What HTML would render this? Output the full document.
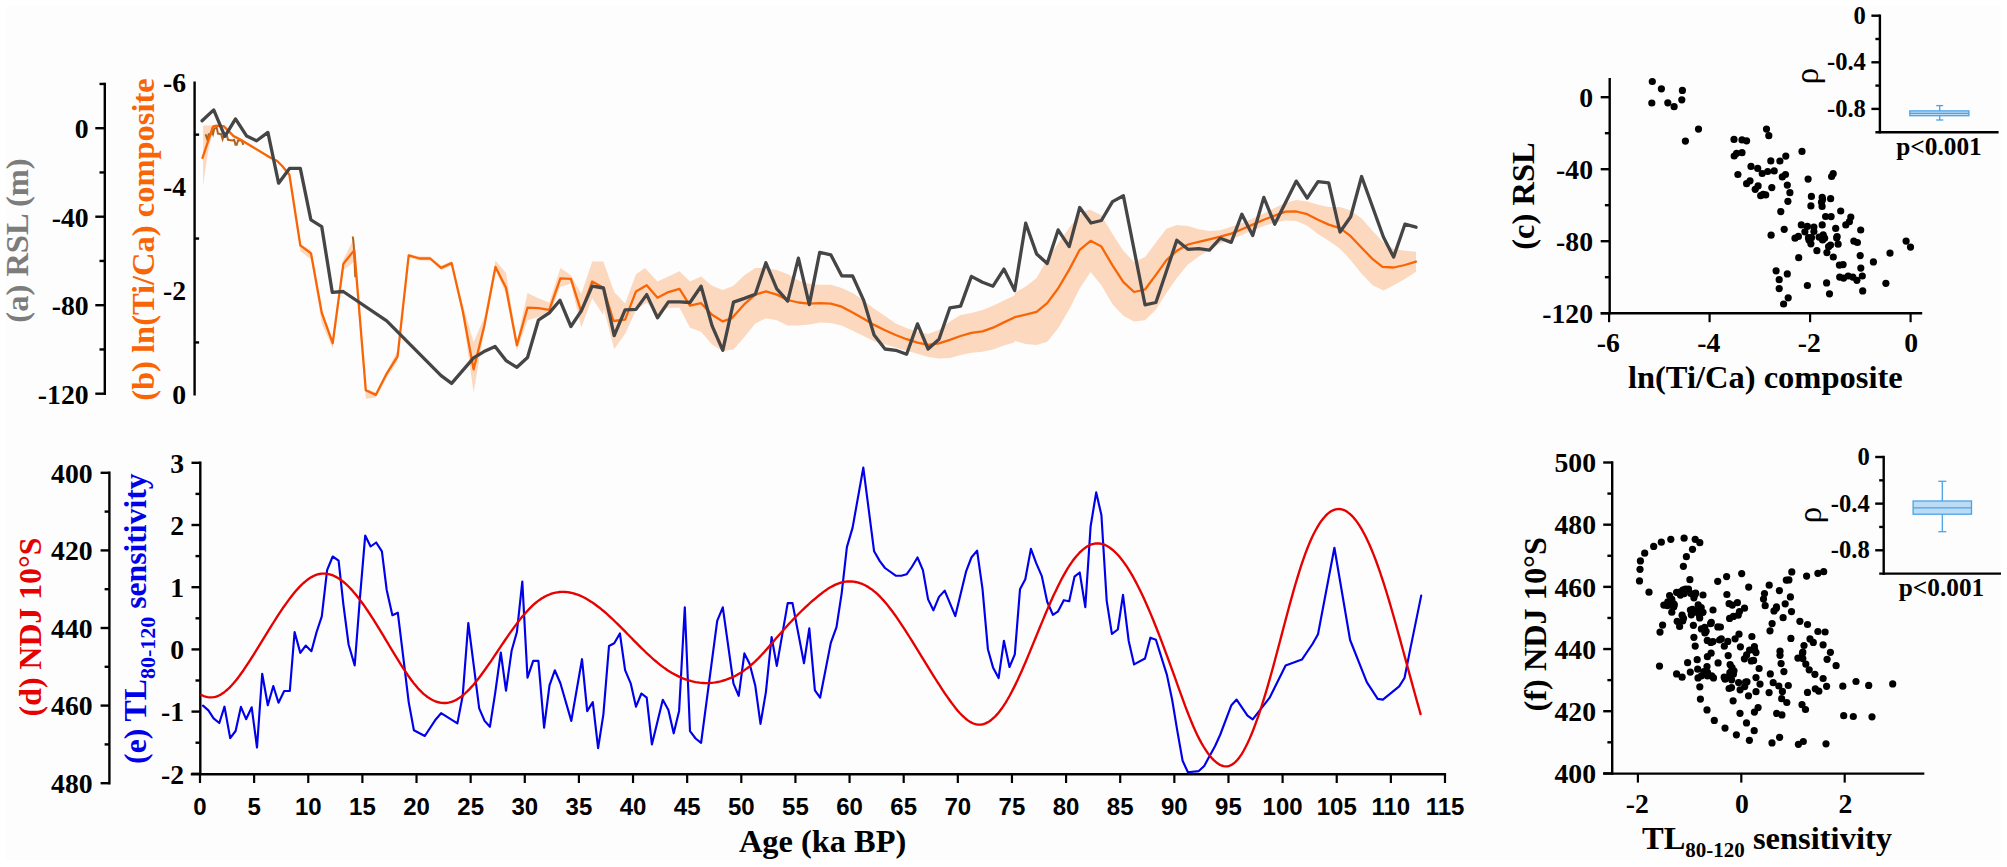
<!DOCTYPE html>
<html lang="en"><head><meta charset="utf-8"><title>Figure</title>
<style>
html,body{margin:0;padding:0;background:#fff;}
body{width:2007px;height:867px;overflow:hidden;}
svg{display:block;}
text{white-space:pre;}
</style></head><body>
<svg width="2007" height="867" viewBox="0 0 2007 867">
<rect x="0" y="0" width="2007" height="867" fill="#ffffff"/>
<rect x="6" y="6" width="1995" height="854" fill="#fdfdfd"/>
<line x1="104.80" y1="82.75" x2="104.80" y2="394.90" stroke="#000" stroke-width="2.4" />
<line x1="95.30" y1="128.20" x2="104.80" y2="128.20" stroke="#000" stroke-width="2.4" />
<text x="88.60" y="138.00" font-size="27.7" text-anchor="end" fill="#000" font-family="Liberation Serif, serif" font-weight="bold" >0</text>
<line x1="95.30" y1="216.70" x2="104.80" y2="216.70" stroke="#000" stroke-width="2.4" />
<text x="88.60" y="226.50" font-size="27.7" text-anchor="end" fill="#000" font-family="Liberation Serif, serif" font-weight="bold" >-40</text>
<line x1="95.30" y1="305.20" x2="104.80" y2="305.20" stroke="#000" stroke-width="2.4" />
<text x="88.60" y="315.00" font-size="27.7" text-anchor="end" fill="#000" font-family="Liberation Serif, serif" font-weight="bold" >-80</text>
<line x1="95.30" y1="393.70" x2="104.80" y2="393.70" stroke="#000" stroke-width="2.4" />
<text x="88.60" y="403.50" font-size="27.7" text-anchor="end" fill="#000" font-family="Liberation Serif, serif" font-weight="bold" >-120</text>
<line x1="99.50" y1="83.95" x2="104.80" y2="83.95" stroke="#000" stroke-width="2.4" />
<line x1="99.50" y1="172.45" x2="104.80" y2="172.45" stroke="#000" stroke-width="2.4" />
<line x1="99.50" y1="260.95" x2="104.80" y2="260.95" stroke="#000" stroke-width="2.4" />
<line x1="99.50" y1="349.45" x2="104.80" y2="349.45" stroke="#000" stroke-width="2.4" />
<line x1="194.60" y1="81.50" x2="194.60" y2="395.60" stroke="#000" stroke-width="2.4" />
<line x1="194.60" y1="134.65" x2="199.10" y2="134.65" stroke="#000" stroke-width="2.4" />
<line x1="194.60" y1="238.55" x2="199.10" y2="238.55" stroke="#000" stroke-width="2.4" />
<line x1="194.60" y1="342.45" x2="199.10" y2="342.45" stroke="#000" stroke-width="2.4" />
<text x="186.00" y="91.90" font-size="27.7" text-anchor="end" fill="#000" font-family="Liberation Serif, serif" font-weight="bold" >-6</text>
<text x="186.00" y="195.80" font-size="27.7" text-anchor="end" fill="#000" font-family="Liberation Serif, serif" font-weight="bold" >-4</text>
<text x="186.00" y="299.70" font-size="27.7" text-anchor="end" fill="#000" font-family="Liberation Serif, serif" font-weight="bold" >-2</text>
<text x="186.00" y="403.60" font-size="27.7" text-anchor="end" fill="#000" font-family="Liberation Serif, serif" font-weight="bold" >0</text>
<text transform="translate(27.80,240.50) rotate(-90)" font-size="32.5" text-anchor="middle" fill="#7c7c7c" font-family="Liberation Serif, serif" font-weight="bold" >(a) RSL (m)</text>
<text transform="translate(154.00,239.50) rotate(-90)" font-size="32.5" text-anchor="middle" fill="#f96505" font-family="Liberation Serif, serif" font-weight="bold" >(b) ln(Ti/Ca) composite</text>
<line x1="109.40" y1="471.60" x2="109.40" y2="784.40" stroke="#000" stroke-width="2.4" />
<line x1="100.60" y1="472.80" x2="109.40" y2="472.80" stroke="#000" stroke-width="2.4" />
<text x="92.60" y="482.60" font-size="27.7" text-anchor="end" fill="#000" font-family="Liberation Serif, serif" font-weight="bold" >400</text>
<line x1="100.60" y1="550.40" x2="109.40" y2="550.40" stroke="#000" stroke-width="2.4" />
<text x="92.60" y="560.20" font-size="27.7" text-anchor="end" fill="#000" font-family="Liberation Serif, serif" font-weight="bold" >420</text>
<line x1="100.60" y1="628.00" x2="109.40" y2="628.00" stroke="#000" stroke-width="2.4" />
<text x="92.60" y="637.80" font-size="27.7" text-anchor="end" fill="#000" font-family="Liberation Serif, serif" font-weight="bold" >440</text>
<line x1="100.60" y1="705.60" x2="109.40" y2="705.60" stroke="#000" stroke-width="2.4" />
<text x="92.60" y="715.40" font-size="27.7" text-anchor="end" fill="#000" font-family="Liberation Serif, serif" font-weight="bold" >460</text>
<line x1="100.60" y1="783.20" x2="109.40" y2="783.20" stroke="#000" stroke-width="2.4" />
<text x="92.60" y="793.00" font-size="27.7" text-anchor="end" fill="#000" font-family="Liberation Serif, serif" font-weight="bold" >480</text>
<line x1="104.60" y1="511.60" x2="109.40" y2="511.60" stroke="#000" stroke-width="2.4" />
<line x1="104.60" y1="589.20" x2="109.40" y2="589.20" stroke="#000" stroke-width="2.4" />
<line x1="104.60" y1="666.80" x2="109.40" y2="666.80" stroke="#000" stroke-width="2.4" />
<line x1="104.60" y1="744.40" x2="109.40" y2="744.40" stroke="#000" stroke-width="2.4" />
<line x1="200.30" y1="461.60" x2="200.30" y2="775.00" stroke="#000" stroke-width="2.4" />
<line x1="191.50" y1="462.80" x2="200.30" y2="462.80" stroke="#000" stroke-width="2.4" />
<text x="184.00" y="472.60" font-size="27.7" text-anchor="end" fill="#000" font-family="Liberation Serif, serif" font-weight="bold" >3</text>
<line x1="191.50" y1="525.00" x2="200.30" y2="525.00" stroke="#000" stroke-width="2.4" />
<text x="184.00" y="534.80" font-size="27.7" text-anchor="end" fill="#000" font-family="Liberation Serif, serif" font-weight="bold" >2</text>
<line x1="191.50" y1="587.20" x2="200.30" y2="587.20" stroke="#000" stroke-width="2.4" />
<text x="184.00" y="597.00" font-size="27.7" text-anchor="end" fill="#000" font-family="Liberation Serif, serif" font-weight="bold" >1</text>
<line x1="191.50" y1="649.40" x2="200.30" y2="649.40" stroke="#000" stroke-width="2.4" />
<text x="184.00" y="659.20" font-size="27.7" text-anchor="end" fill="#000" font-family="Liberation Serif, serif" font-weight="bold" >0</text>
<line x1="191.50" y1="711.60" x2="200.30" y2="711.60" stroke="#000" stroke-width="2.4" />
<text x="184.00" y="721.40" font-size="27.7" text-anchor="end" fill="#000" font-family="Liberation Serif, serif" font-weight="bold" >-1</text>
<line x1="191.50" y1="773.80" x2="200.30" y2="773.80" stroke="#000" stroke-width="2.4" />
<text x="184.00" y="783.60" font-size="27.7" text-anchor="end" fill="#000" font-family="Liberation Serif, serif" font-weight="bold" >-2</text>
<line x1="195.50" y1="493.90" x2="200.30" y2="493.90" stroke="#000" stroke-width="2.4" />
<line x1="195.50" y1="556.10" x2="200.30" y2="556.10" stroke="#000" stroke-width="2.4" />
<line x1="195.50" y1="618.30" x2="200.30" y2="618.30" stroke="#000" stroke-width="2.4" />
<line x1="195.50" y1="680.50" x2="200.30" y2="680.50" stroke="#000" stroke-width="2.4" />
<line x1="195.50" y1="742.70" x2="200.30" y2="742.70" stroke="#000" stroke-width="2.4" />
<line x1="190.80" y1="774.30" x2="1446.09" y2="774.30" stroke="#000" stroke-width="2.4" />
<line x1="200.00" y1="774.30" x2="200.00" y2="783.00" stroke="#000" stroke-width="2.2" />
<text x="200.00" y="815.40" font-size="24" text-anchor="middle" fill="#000" font-family="Liberation Sans, sans-serif" font-weight="bold" >0</text>
<line x1="254.13" y1="774.30" x2="254.13" y2="783.00" stroke="#000" stroke-width="2.2" />
<text x="254.13" y="815.40" font-size="24" text-anchor="middle" fill="#000" font-family="Liberation Sans, sans-serif" font-weight="bold" >5</text>
<line x1="308.26" y1="774.30" x2="308.26" y2="783.00" stroke="#000" stroke-width="2.2" />
<text x="308.26" y="815.40" font-size="24" text-anchor="middle" fill="#000" font-family="Liberation Sans, sans-serif" font-weight="bold" >10</text>
<line x1="362.39" y1="774.30" x2="362.39" y2="783.00" stroke="#000" stroke-width="2.2" />
<text x="362.39" y="815.40" font-size="24" text-anchor="middle" fill="#000" font-family="Liberation Sans, sans-serif" font-weight="bold" >15</text>
<line x1="416.52" y1="774.30" x2="416.52" y2="783.00" stroke="#000" stroke-width="2.2" />
<text x="416.52" y="815.40" font-size="24" text-anchor="middle" fill="#000" font-family="Liberation Sans, sans-serif" font-weight="bold" >20</text>
<line x1="470.65" y1="774.30" x2="470.65" y2="783.00" stroke="#000" stroke-width="2.2" />
<text x="470.65" y="815.40" font-size="24" text-anchor="middle" fill="#000" font-family="Liberation Sans, sans-serif" font-weight="bold" >25</text>
<line x1="524.78" y1="774.30" x2="524.78" y2="783.00" stroke="#000" stroke-width="2.2" />
<text x="524.78" y="815.40" font-size="24" text-anchor="middle" fill="#000" font-family="Liberation Sans, sans-serif" font-weight="bold" >30</text>
<line x1="578.91" y1="774.30" x2="578.91" y2="783.00" stroke="#000" stroke-width="2.2" />
<text x="578.91" y="815.40" font-size="24" text-anchor="middle" fill="#000" font-family="Liberation Sans, sans-serif" font-weight="bold" >35</text>
<line x1="633.04" y1="774.30" x2="633.04" y2="783.00" stroke="#000" stroke-width="2.2" />
<text x="633.04" y="815.40" font-size="24" text-anchor="middle" fill="#000" font-family="Liberation Sans, sans-serif" font-weight="bold" >40</text>
<line x1="687.17" y1="774.30" x2="687.17" y2="783.00" stroke="#000" stroke-width="2.2" />
<text x="687.17" y="815.40" font-size="24" text-anchor="middle" fill="#000" font-family="Liberation Sans, sans-serif" font-weight="bold" >45</text>
<line x1="741.30" y1="774.30" x2="741.30" y2="783.00" stroke="#000" stroke-width="2.2" />
<text x="741.30" y="815.40" font-size="24" text-anchor="middle" fill="#000" font-family="Liberation Sans, sans-serif" font-weight="bold" >50</text>
<line x1="795.43" y1="774.30" x2="795.43" y2="783.00" stroke="#000" stroke-width="2.2" />
<text x="795.43" y="815.40" font-size="24" text-anchor="middle" fill="#000" font-family="Liberation Sans, sans-serif" font-weight="bold" >55</text>
<line x1="849.56" y1="774.30" x2="849.56" y2="783.00" stroke="#000" stroke-width="2.2" />
<text x="849.56" y="815.40" font-size="24" text-anchor="middle" fill="#000" font-family="Liberation Sans, sans-serif" font-weight="bold" >60</text>
<line x1="903.69" y1="774.30" x2="903.69" y2="783.00" stroke="#000" stroke-width="2.2" />
<text x="903.69" y="815.40" font-size="24" text-anchor="middle" fill="#000" font-family="Liberation Sans, sans-serif" font-weight="bold" >65</text>
<line x1="957.82" y1="774.30" x2="957.82" y2="783.00" stroke="#000" stroke-width="2.2" />
<text x="957.82" y="815.40" font-size="24" text-anchor="middle" fill="#000" font-family="Liberation Sans, sans-serif" font-weight="bold" >70</text>
<line x1="1011.95" y1="774.30" x2="1011.95" y2="783.00" stroke="#000" stroke-width="2.2" />
<text x="1011.95" y="815.40" font-size="24" text-anchor="middle" fill="#000" font-family="Liberation Sans, sans-serif" font-weight="bold" >75</text>
<line x1="1066.08" y1="774.30" x2="1066.08" y2="783.00" stroke="#000" stroke-width="2.2" />
<text x="1066.08" y="815.40" font-size="24" text-anchor="middle" fill="#000" font-family="Liberation Sans, sans-serif" font-weight="bold" >80</text>
<line x1="1120.21" y1="774.30" x2="1120.21" y2="783.00" stroke="#000" stroke-width="2.2" />
<text x="1120.21" y="815.40" font-size="24" text-anchor="middle" fill="#000" font-family="Liberation Sans, sans-serif" font-weight="bold" >85</text>
<line x1="1174.34" y1="774.30" x2="1174.34" y2="783.00" stroke="#000" stroke-width="2.2" />
<text x="1174.34" y="815.40" font-size="24" text-anchor="middle" fill="#000" font-family="Liberation Sans, sans-serif" font-weight="bold" >90</text>
<line x1="1228.47" y1="774.30" x2="1228.47" y2="783.00" stroke="#000" stroke-width="2.2" />
<text x="1228.47" y="815.40" font-size="24" text-anchor="middle" fill="#000" font-family="Liberation Sans, sans-serif" font-weight="bold" >95</text>
<line x1="1282.60" y1="774.30" x2="1282.60" y2="783.00" stroke="#000" stroke-width="2.2" />
<text x="1282.60" y="815.40" font-size="24" text-anchor="middle" fill="#000" font-family="Liberation Sans, sans-serif" font-weight="bold" >100</text>
<line x1="1336.73" y1="774.30" x2="1336.73" y2="783.00" stroke="#000" stroke-width="2.2" />
<text x="1336.73" y="815.40" font-size="24" text-anchor="middle" fill="#000" font-family="Liberation Sans, sans-serif" font-weight="bold" >105</text>
<line x1="1390.86" y1="774.30" x2="1390.86" y2="783.00" stroke="#000" stroke-width="2.2" />
<text x="1390.86" y="815.40" font-size="24" text-anchor="middle" fill="#000" font-family="Liberation Sans, sans-serif" font-weight="bold" >110</text>
<line x1="1444.99" y1="774.30" x2="1444.99" y2="783.00" stroke="#000" stroke-width="2.2" />
<text x="1444.99" y="815.40" font-size="24" text-anchor="middle" fill="#000" font-family="Liberation Sans, sans-serif" font-weight="bold" >115</text>
<text x="822.60" y="852.00" font-size="32.4" text-anchor="middle" fill="#000" font-family="Liberation Serif, serif" font-weight="bold" >Age (ka BP)</text>
<text transform="translate(40.80,627.00) rotate(-90)" font-size="31.8" text-anchor="middle" fill="#e60000" font-family="Liberation Serif, serif" font-weight="bold" >(d) NDJ 10°S</text>
<text transform="translate(145.5,618.6) rotate(-90)" font-size="31.7" text-anchor="middle" fill="#0000ea" font-family="Liberation Serif, serif" font-weight="bold">(e) TL<tspan font-size="22" dy="9.5">80-120</tspan><tspan dy="-9.5"> sensitivity</tspan></text>
<line x1="1609.70" y1="78.00" x2="1609.70" y2="314.40" stroke="#000" stroke-width="2.4" />
<line x1="1600.70" y1="313.20" x2="1922.20" y2="313.20" stroke="#000" stroke-width="2.4" />
<line x1="1600.70" y1="97.20" x2="1609.70" y2="97.20" stroke="#000" stroke-width="2.4" />
<text x="1593.00" y="107.00" font-size="27.7" text-anchor="end" fill="#000" font-family="Liberation Serif, serif" font-weight="bold" >0</text>
<line x1="1600.70" y1="169.20" x2="1609.70" y2="169.20" stroke="#000" stroke-width="2.4" />
<text x="1593.00" y="179.00" font-size="27.7" text-anchor="end" fill="#000" font-family="Liberation Serif, serif" font-weight="bold" >-40</text>
<line x1="1600.70" y1="241.20" x2="1609.70" y2="241.20" stroke="#000" stroke-width="2.4" />
<text x="1593.00" y="251.00" font-size="27.7" text-anchor="end" fill="#000" font-family="Liberation Serif, serif" font-weight="bold" >-80</text>
<line x1="1600.70" y1="313.20" x2="1609.70" y2="313.20" stroke="#000" stroke-width="2.4" />
<text x="1593.00" y="323.00" font-size="27.7" text-anchor="end" fill="#000" font-family="Liberation Serif, serif" font-weight="bold" >-120</text>
<line x1="1604.90" y1="133.20" x2="1609.70" y2="133.20" stroke="#000" stroke-width="2.4" />
<line x1="1604.90" y1="205.20" x2="1609.70" y2="205.20" stroke="#000" stroke-width="2.4" />
<line x1="1604.90" y1="277.20" x2="1609.70" y2="277.20" stroke="#000" stroke-width="2.4" />
<line x1="1609.10" y1="313.20" x2="1609.10" y2="322.20" stroke="#000" stroke-width="2.2" />
<text x="1608.30" y="352.40" font-size="27.7" text-anchor="middle" fill="#000" font-family="Liberation Serif, serif" font-weight="bold" >-6</text>
<line x1="1709.60" y1="313.20" x2="1709.60" y2="322.20" stroke="#000" stroke-width="2.2" />
<text x="1708.80" y="352.40" font-size="27.7" text-anchor="middle" fill="#000" font-family="Liberation Serif, serif" font-weight="bold" >-4</text>
<line x1="1810.10" y1="313.20" x2="1810.10" y2="322.20" stroke="#000" stroke-width="2.2" />
<text x="1809.30" y="352.40" font-size="27.7" text-anchor="middle" fill="#000" font-family="Liberation Serif, serif" font-weight="bold" >-2</text>
<line x1="1910.60" y1="313.20" x2="1910.60" y2="322.20" stroke="#000" stroke-width="2.2" />
<text x="1911.20" y="352.40" font-size="27.7" text-anchor="middle" fill="#000" font-family="Liberation Serif, serif" font-weight="bold" >0</text>
<text x="1765.30" y="387.80" font-size="32.5" text-anchor="middle" fill="#000" font-family="Liberation Serif, serif" font-weight="bold" >ln(Ti/Ca) composite</text>
<text transform="translate(1534.00,196.00) rotate(-90)" font-size="32.5" text-anchor="middle" fill="#000" font-family="Liberation Serif, serif" font-weight="bold" >(c) RSL</text>
<line x1="1612.20" y1="461.30" x2="1612.20" y2="774.80" stroke="#000" stroke-width="2.4" />
<line x1="1603.20" y1="773.60" x2="1924.32" y2="773.60" stroke="#000" stroke-width="2.4" />
<line x1="1603.20" y1="773.40" x2="1612.20" y2="773.40" stroke="#000" stroke-width="2.4" />
<text x="1596.00" y="783.20" font-size="27.7" text-anchor="end" fill="#000" font-family="Liberation Serif, serif" font-weight="bold" >400</text>
<line x1="1603.20" y1="711.22" x2="1612.20" y2="711.22" stroke="#000" stroke-width="2.4" />
<text x="1596.00" y="721.02" font-size="27.7" text-anchor="end" fill="#000" font-family="Liberation Serif, serif" font-weight="bold" >420</text>
<line x1="1603.20" y1="649.04" x2="1612.20" y2="649.04" stroke="#000" stroke-width="2.4" />
<text x="1596.00" y="658.84" font-size="27.7" text-anchor="end" fill="#000" font-family="Liberation Serif, serif" font-weight="bold" >440</text>
<line x1="1603.20" y1="586.86" x2="1612.20" y2="586.86" stroke="#000" stroke-width="2.4" />
<text x="1596.00" y="596.66" font-size="27.7" text-anchor="end" fill="#000" font-family="Liberation Serif, serif" font-weight="bold" >460</text>
<line x1="1603.20" y1="524.68" x2="1612.20" y2="524.68" stroke="#000" stroke-width="2.4" />
<text x="1596.00" y="534.48" font-size="27.7" text-anchor="end" fill="#000" font-family="Liberation Serif, serif" font-weight="bold" >480</text>
<line x1="1603.20" y1="462.50" x2="1612.20" y2="462.50" stroke="#000" stroke-width="2.4" />
<text x="1596.00" y="472.30" font-size="27.7" text-anchor="end" fill="#000" font-family="Liberation Serif, serif" font-weight="bold" >500</text>
<line x1="1607.40" y1="742.31" x2="1612.20" y2="742.31" stroke="#000" stroke-width="2.4" />
<line x1="1607.40" y1="680.13" x2="1612.20" y2="680.13" stroke="#000" stroke-width="2.4" />
<line x1="1607.40" y1="617.95" x2="1612.20" y2="617.95" stroke="#000" stroke-width="2.4" />
<line x1="1607.40" y1="555.77" x2="1612.20" y2="555.77" stroke="#000" stroke-width="2.4" />
<line x1="1607.40" y1="493.59" x2="1612.20" y2="493.59" stroke="#000" stroke-width="2.4" />
<line x1="1637.90" y1="773.60" x2="1637.90" y2="782.60" stroke="#000" stroke-width="2.2" />
<text x="1637.20" y="812.80" font-size="27.7" text-anchor="middle" fill="#000" font-family="Liberation Serif, serif" font-weight="bold" >-2</text>
<line x1="1741.30" y1="773.60" x2="1741.30" y2="782.60" stroke="#000" stroke-width="2.2" />
<text x="1741.90" y="812.80" font-size="27.7" text-anchor="middle" fill="#000" font-family="Liberation Serif, serif" font-weight="bold" >0</text>
<line x1="1844.70" y1="773.60" x2="1844.70" y2="782.60" stroke="#000" stroke-width="2.2" />
<text x="1845.30" y="812.80" font-size="27.7" text-anchor="middle" fill="#000" font-family="Liberation Serif, serif" font-weight="bold" >2</text>
<text x="1767" y="848.8" font-size="32.5" text-anchor="middle" fill="#000" font-family="Liberation Serif, serif" font-weight="bold">TL<tspan font-size="21" dy="8">80-120</tspan><tspan dy="-8"> sensitivity</tspan></text>
<text transform="translate(1546.00,624.20) rotate(-90)" font-size="32.3" text-anchor="middle" fill="#000" font-family="Liberation Serif, serif" font-weight="bold" >(f) NDJ 10°S</text>
<line x1="1879.90" y1="14.50" x2="1879.90" y2="133.40" stroke="#000" stroke-width="2.4" />
<line x1="1875.40" y1="132.20" x2="1998.60" y2="132.20" stroke="#000" stroke-width="2.4" />
<line x1="1871.40" y1="15.70" x2="1879.90" y2="15.70" stroke="#000" stroke-width="2.4" />
<text x="1865.90" y="23.70" font-size="24.6" text-anchor="end" fill="#000" font-family="Liberation Serif, serif" font-weight="bold" >0</text>
<line x1="1871.40" y1="62.30" x2="1879.90" y2="62.30" stroke="#000" stroke-width="2.4" />
<text x="1865.90" y="70.30" font-size="24.6" text-anchor="end" fill="#000" font-family="Liberation Serif, serif" font-weight="bold" >-0.4</text>
<line x1="1871.40" y1="108.90" x2="1879.90" y2="108.90" stroke="#000" stroke-width="2.4" />
<text x="1865.90" y="116.90" font-size="24.6" text-anchor="end" fill="#000" font-family="Liberation Serif, serif" font-weight="bold" >-0.8</text>
<line x1="1875.40" y1="39.00" x2="1879.90" y2="39.00" stroke="#000" stroke-width="2.4" />
<line x1="1875.40" y1="85.60" x2="1879.90" y2="85.60" stroke="#000" stroke-width="2.4" />
<line x1="1939.70" y1="105.60" x2="1939.70" y2="120.00" stroke="#4aa3e8" stroke-width="1.3" />
<line x1="1936.20" y1="105.60" x2="1943.20" y2="105.60" stroke="#4aa3e8" stroke-width="1.3" />
<line x1="1936.20" y1="120.00" x2="1943.20" y2="120.00" stroke="#4aa3e8" stroke-width="1.3" />
<rect x="1909.8" y="110.9" width="59.100000000000136" height="4.799999999999997" fill="#bcdcf5" stroke="#4aa3e8" stroke-width="1.3"/>
<line x1="1909.80" y1="113.30" x2="1968.90" y2="113.30" stroke="#4aa3e8" stroke-width="1.3" />
<text transform="translate(1818,76) rotate(-90)" font-size="33" text-anchor="middle" fill="#000" font-family="Liberation Serif, serif">ρ</text>
<text x="1939.00" y="154.80" font-size="25.3" text-anchor="middle" fill="#000" font-family="Liberation Serif, serif" font-weight="bold" >p&lt;0.001</text>
<line x1="1883.70" y1="455.80" x2="1883.70" y2="574.80" stroke="#000" stroke-width="2.4" />
<line x1="1879.20" y1="573.60" x2="2001.00" y2="573.60" stroke="#000" stroke-width="2.4" />
<line x1="1875.20" y1="457.00" x2="1883.70" y2="457.00" stroke="#000" stroke-width="2.4" />
<text x="1869.70" y="465.00" font-size="24.6" text-anchor="end" fill="#000" font-family="Liberation Serif, serif" font-weight="bold" >0</text>
<line x1="1875.20" y1="503.64" x2="1883.70" y2="503.64" stroke="#000" stroke-width="2.4" />
<text x="1869.70" y="511.64" font-size="24.6" text-anchor="end" fill="#000" font-family="Liberation Serif, serif" font-weight="bold" >-0.4</text>
<line x1="1875.20" y1="550.28" x2="1883.70" y2="550.28" stroke="#000" stroke-width="2.4" />
<text x="1869.70" y="558.28" font-size="24.6" text-anchor="end" fill="#000" font-family="Liberation Serif, serif" font-weight="bold" >-0.8</text>
<line x1="1879.20" y1="480.32" x2="1883.70" y2="480.32" stroke="#000" stroke-width="2.4" />
<line x1="1879.20" y1="526.96" x2="1883.70" y2="526.96" stroke="#000" stroke-width="2.4" />
<line x1="1942.30" y1="481.30" x2="1942.30" y2="531.70" stroke="#4aa3e8" stroke-width="1.3" />
<line x1="1938.30" y1="481.30" x2="1946.30" y2="481.30" stroke="#4aa3e8" stroke-width="1.3" />
<line x1="1938.30" y1="531.70" x2="1946.30" y2="531.70" stroke="#4aa3e8" stroke-width="1.3" />
<rect x="1913.1" y="501.0" width="58.40000000000009" height="13.200000000000045" fill="#bcdcf5" stroke="#4aa3e8" stroke-width="1.3"/>
<line x1="1913.10" y1="507.90" x2="1971.50" y2="507.90" stroke="#4aa3e8" stroke-width="1.3" />
<text transform="translate(1821,515) rotate(-90)" font-size="33" text-anchor="middle" fill="#000" font-family="Liberation Serif, serif">ρ</text>
<text x="1941.50" y="596.20" font-size="25.3" text-anchor="middle" fill="#000" font-family="Liberation Serif, serif" font-weight="bold" >p&lt;0.001</text>
<polygon points="203.1,125.5 213.7,125.5 218.6,125.1 224.3,125.3 227.4,128.6 233.6,134.8 239.8,138.0 252.3,145.4 269.7,156.0 277.2,159.8 282.2,164.7 289.0,173.5 297.8,224.0 300.3,244.3 311.0,250.1 321.8,310.8 332.7,341.1 343.4,259.5 354.3,237.6 365.8,388.2 375.8,392.4 386.7,371.5 397.6,350.6 408.7,253.9 419.6,256.4 430.2,256.4 441.1,265.8 451.6,261.0 462.7,304.5 473.6,342.2 484.4,317.1 495.5,260.6 506.0,273.1 516.9,341.1 527.5,293.0 538.4,298.2 549.3,302.4 560.4,267.9 570.9,275.2 581.3,294.1 592.2,261.6 603.3,261.6 603.8,262.8 614.2,292.1 625.1,303.6 636.0,274.3 645.0,268.0 657.5,281.6 668.4,276.4 679.5,271.2 690.0,281.6 701.1,276.4 712.0,285.8 722.8,290.0 733.5,285.8 744.4,275.3 755.3,268.0 765.9,268.0 776.8,270.1 787.7,274.3 798.4,280.6 809.3,283.7 819.7,284.8 830.8,284.8 841.7,287.9 852.6,293.1 863.7,300.4 874.1,308.8 885.0,316.1 895.7,323.5 906.6,328.1 917.5,331.8 928.1,333.9 939.0,329.7 949.9,321.4 960.6,315.1 971.4,313.0 982.5,309.9 993.0,305.7 1003.9,300.4 1014.8,295.2 1014.6,292.7 1025.7,286.4 1036.6,278.0 1047.2,259.2 1058.1,243.5 1069.2,227.8 1079.7,214.2 1089.5,209.6 1101.4,215.2 1112.5,234.1 1123.4,250.8 1134.1,262.3 1145.0,257.1 1155.9,242.4 1166.5,228.8 1176.8,225.1 1187.9,226.1 1198.8,229.2 1209.4,230.9 1220.3,230.3 1231.2,226.7 1241.9,223.0 1252.7,218.4 1263.8,213.5 1274.7,207.9 1285.6,202.7 1296.3,199.9 1307.2,201.6 1318.0,204.8 1328.7,206.9 1340.0,206.9 1350.7,210.4 1361.6,218.4 1372.7,230.9 1383.5,242.4 1393.6,248.7 1404.9,250.8 1416.0,251.8 1416.0,271.7 1404.9,279.1 1393.6,285.3 1383.5,290.6 1372.7,285.3 1361.6,273.8 1350.7,260.2 1340.0,248.7 1328.7,240.8 1318.0,234.1 1307.2,225.7 1296.3,220.9 1285.6,220.5 1274.7,222.5 1263.8,226.1 1252.7,230.3 1241.9,235.1 1231.2,239.3 1220.3,243.5 1209.4,249.8 1198.8,256.4 1187.9,264.4 1176.8,278.0 1166.5,292.7 1155.9,309.4 1145.0,320.3 1134.1,321.5 1123.4,315.7 1112.5,304.2 1101.4,285.3 1090.6,272.1 1079.7,288.5 1069.2,309.4 1058.1,328.2 1047.2,341.8 1036.6,345.0 1025.7,343.9 1014.6,340.8 1014.8,342.3 1003.9,345.4 993.0,349.6 982.5,351.7 971.4,352.8 960.6,354.9 949.9,358.0 939.0,358.6 928.1,356.9 917.5,353.8 906.6,350.7 895.7,347.5 885.0,344.4 874.1,341.3 863.7,336.0 852.6,330.8 841.7,325.6 830.8,323.0 819.7,322.4 809.3,324.5 798.4,325.6 787.7,325.6 776.8,320.3 765.9,318.2 755.3,323.5 744.4,337.1 733.5,349.6 722.8,351.1 712.0,344.4 701.1,331.8 690.0,327.7 679.5,307.8 668.4,307.8 657.5,314.1 646.7,302.5 636.0,309.9 625.1,333.9 614.2,349.0 603.8,308.8 603.3,315.0 592.2,298.2 581.3,327.5 570.9,283.6 560.4,286.7 549.3,315.0 538.4,317.1 527.5,320.2 516.9,350.6 506.0,294.1 495.5,270.0 484.4,329.6 473.6,392.4 462.7,315.0 451.6,265.8 441.1,270.0 430.2,260.6 419.6,260.6 408.7,257.4 397.6,361.0 386.7,377.8 375.8,397.6 365.8,398.7 354.3,261.6 343.4,270.0 332.7,348.5 321.8,323.4 311.0,259.5 300.3,251.2 297.8,227.1 289.0,175.9 282.2,167.2 277.2,162.2 269.7,158.5 252.3,147.9 239.8,140.4 233.6,137.3 227.4,131.1 224.3,127.0 218.6,126.7 213.7,128.0 208.7,148.5 204.9,172.2 203.1,185.9" fill="#fcd8bf" stroke="none"/>
<polyline points="205.6,134.2 207.4,139.8 208.7,134.2 210.6,134.2 211.8,131.1 213.0,134.2 214.3,128.6 216.8,128.0 218.0,133.6 221.1,134.2 222.6,139.2 224.3,134.2 226.7,134.8 228.0,139.8 232.4,140.4 234.2,139.8 235.5,144.8 236.7,144.8 238.0,140.4 241.7,140.4 243.3,144.8" fill="none" stroke="#b0651f" stroke-width="2" stroke-linejoin="miter"/>
<polyline points="352.8,236.5 353.8,246.0 355.3,277.3" fill="none" stroke="#b0651f" stroke-width="2" stroke-linejoin="miter"/>
<polyline points="202.5,157.9 213.0,126.7 216.2,125.7 223.6,126.1 227.4,129.9 233.6,136.1 239.8,139.2 252.3,146.7 269.7,157.3 277.2,161.0 282.2,166.0 289.4,174.7 300.3,245.3 311.0,253.3 321.8,312.9 332.7,343.2 343.4,263.7 354.3,250.1 365.8,390.3 375.8,394.9 386.7,373.6 397.6,356.4 408.7,255.3 419.6,258.5 430.2,258.5 441.1,267.9 451.6,263.1 462.7,310.8 473.6,369.4 484.4,325.4 495.5,266.9 506.0,287.8 516.9,345.3 527.5,307.7 538.4,308.1 549.3,309.8 560.4,278.4 570.9,278.8 581.3,311.8 592.2,281.5 603.3,287.8 613.5,321.0 625.1,319.7 636.0,291.4 646.7,285.2 657.5,297.7 668.4,292.1 679.5,288.9 690.0,305.7 701.1,303.2 712.0,314.7 722.8,321.4 731.8,318.2 744.4,304.2 755.3,294.6 765.9,291.4 776.8,294.6 787.7,300.0 798.4,302.5 809.3,303.6 819.7,303.2 830.8,303.6 841.7,306.7 852.6,312.4 863.7,318.7 874.1,324.9 885.0,330.2 895.7,335.0 906.6,339.2 917.5,342.7 928.1,344.8 939.0,343.3 949.9,339.8 960.6,336.0 971.4,332.9 982.5,331.4 993.0,327.7 1003.9,322.4 1014.8,317.2 1025.7,314.6 1036.6,311.9 1047.2,303.1 1058.1,288.5 1069.2,269.6 1079.7,249.8 1090.6,240.8 1101.4,246.6 1112.5,265.4 1123.4,282.2 1134.1,292.0 1145.0,289.5 1155.9,274.9 1166.5,260.2 1176.8,250.8 1187.9,244.5 1198.8,241.8 1209.4,239.3 1220.3,236.6 1231.2,233.6 1241.9,229.2 1252.7,224.6 1263.8,219.8 1274.7,215.6 1285.6,211.7 1296.3,211.5 1307.2,214.2 1318.0,219.8 1328.7,224.6 1340.0,228.2 1350.7,236.2 1361.6,247.7 1372.7,259.2 1382.5,266.9 1393.6,267.5 1404.9,265.0 1416.0,261.7" fill="none" stroke="#f96505" stroke-width="2.3" stroke-linejoin="round" stroke-linecap="round"/>
<polyline points="202.1,120.8 213.7,109.9 224.9,136.3 235.5,118.9 246.7,136.1 256.6,140.8 267.9,132.4 278.6,183.2 289.5,168.4 300.3,168.4 310.9,219.8 321.7,226.6 332.3,292.4 343.2,291.5 386.7,320.8 441.1,375.7 451.6,383.4 473.6,357.9 484.0,351.6 495.1,346.4 506.0,360.6 516.9,367.3 527.5,357.5 538.4,320.2 549.3,312.9 560.0,300.3 570.9,326.5 581.3,310.8 592.2,286.1 603.5,288.0 614.2,335.6 625.1,309.9 636.0,309.4 646.7,294.6 657.5,317.8 668.4,301.9 679.5,301.9 690.0,302.5 701.1,286.2 712.0,325.6 722.8,350.3 733.5,302.1 744.4,298.4 755.3,294.2 765.9,262.8 776.8,288.9 787.7,301.1 798.4,258.2 809.3,304.6 819.7,252.3 830.8,254.8 841.7,275.8 852.6,276.0 863.7,300.4 874.1,335.0 885.0,349.0 895.7,350.3 906.6,354.2 917.5,323.9 928.1,349.0 939.0,339.2 949.9,307.8 960.6,306.1 971.4,276.4 982.5,282.2 993.0,286.2 1003.9,269.1 1014.7,290.5 1025.7,223.2 1036.6,253.9 1047.2,263.4 1058.1,229.9 1069.2,246.6 1079.7,207.5 1091.0,223.0 1101.4,220.5 1112.5,201.6 1123.4,195.8 1145.0,304.8 1155.9,302.5 1176.8,240.3 1187.9,249.3 1198.8,248.7 1209.4,250.2 1220.3,238.2 1231.2,242.4 1241.9,214.2 1252.7,235.5 1263.8,197.4 1274.7,224.2 1296.3,181.1 1307.2,198.1 1318.0,181.7 1328.7,182.8 1340.0,232.0 1350.7,216.7 1361.6,176.5 1383.5,237.2 1393.6,257.1 1404.9,224.2 1416.0,227.2" fill="none" stroke="#454545" stroke-width="3.3" stroke-linejoin="round" stroke-linecap="round"/>
<polyline points="203.0,705.6 208.4,710.4 213.6,718.4 219.3,723.0 224.5,706.7 230.2,738.1 235.6,731.0 240.9,706.9 246.1,719.2 251.7,707.3 257.0,747.5 262.2,673.8 267.8,705.2 273.3,686.0 278.5,702.7 284.2,691.0 289.8,691.0 294.6,632.0 300.3,652.9 305.7,645.6 311.4,651.2 316.6,632.0 321.8,616.3 327.1,570.1 332.7,556.5 338.6,560.7 343.4,604.6 348.6,644.5 354.7,665.5 359.9,598.4 365.2,535.6 370.6,546.5 376.2,542.5 381.9,551.3 386.7,590.0 392.4,615.2 397.8,612.7 403.5,659.2 408.7,702.1 413.9,730.3 424.8,736.0 435.9,719.2 441.1,713.2 457.4,723.4 462.7,695.8 468.3,623.0 473.6,664.4 479.2,708.4 484.6,720.9 489.9,726.8 495.1,693.7 500.8,652.5 506.0,690.6 511.6,650.8 516.9,632.0 522.3,581.6 527.5,677.6 533.2,660.9 538.4,660.9 544.1,727.6 549.5,685.3 554.8,670.3 560.4,683.2 571.3,720.9 582.0,659.2 587.2,711.1 592.8,702.1 598.1,748.1 603.4,714.3 609.0,646.0 614.2,643.3 619.9,633.5 625.1,670.1 630.8,683.7 636.0,706.7 641.4,693.5 646.7,697.7 651.9,744.4 662.8,699.8 668.4,709.9 673.7,733.3 679.1,710.9 684.8,607.3 690.0,731.2 695.6,738.5 701.1,742.9 717.2,620.9 722.8,607.3 733.5,683.7 738.7,695.8 744.4,653.4 749.6,663.8 755.3,685.8 760.5,723.9 765.9,692.1 771.6,637.0 776.8,665.9 787.7,603.1 792.5,603.1 804.0,663.2 809.3,628.3 814.9,690.4 820.1,697.7 830.8,642.9 836.5,627.2 841.7,593.1 846.9,547.1 852.6,527.6 863.3,467.6 874.1,551.3 879.8,561.1 885.0,568.0 895.7,575.7 901.3,575.7 906.6,574.3 911.8,567.0 917.5,557.5 922.9,570.1 928.1,599.4 933.4,610.3 939.0,596.9 944.7,590.6 955.3,616.1 966.2,571.1 971.4,557.5 977.1,550.6 982.5,588.9 987.9,649.2 993.0,667.4 998.6,678.1 1003.9,640.8 1009.5,667.0 1014.8,654.4 1020.0,589.3 1025.3,579.2 1030.9,548.9 1036.2,563.1 1041.8,576.1 1047.2,601.8 1052.9,614.8 1058.1,611.3 1063.8,600.2 1069.2,601.2 1074.5,576.7 1079.7,572.5 1085.3,607.1 1090.6,526.5 1096.2,492.4 1101.4,515.0 1106.7,600.8 1111.9,633.9 1117.8,629.5 1123.0,594.9 1128.7,641.0 1134.1,664.4 1145.0,658.5 1150.4,637.7 1155.9,639.7 1166.9,674.9 1172.2,700.0 1177.4,731.4 1182.6,760.7 1187.9,772.2 1198.8,771.1 1204.2,765.9 1215.1,746.0 1220.3,734.5 1231.4,705.2 1236.6,699.6 1247.5,715.7 1252.7,719.4 1269.5,697.9 1285.6,665.5 1301.9,659.6 1312.8,643.5 1318.0,634.2 1334.4,547.8 1350.1,640.0 1366.8,682.2 1377.7,698.9 1382.9,699.6 1399.2,686.4 1404.5,678.0 1409.7,651.9 1421.2,595.6" fill="none" stroke="#0000ea" stroke-width="2.15" stroke-linejoin="round" stroke-linecap="round"/>
<polyline points="201.5,695.0 203.5,696.0 205.5,696.7 207.5,697.2 209.5,697.4 211.5,697.4 213.5,697.2 215.5,696.8 217.5,696.1 219.5,695.2 221.5,694.1 223.5,692.8 225.5,691.2 227.5,689.5 229.5,687.6 231.5,685.5 233.5,683.3 235.5,680.9 237.5,678.4 239.5,675.8 241.5,673.0 243.5,670.2 245.5,667.2 247.5,664.2 249.5,661.1 251.5,658.0 253.5,654.8 255.5,651.6 257.5,648.4 259.5,645.2 261.5,641.9 263.5,638.6 265.5,635.4 267.5,632.1 269.5,628.9 271.5,625.7 273.5,622.5 275.5,619.4 277.5,616.2 279.5,613.2 281.5,610.2 283.5,607.2 285.5,604.4 287.5,601.6 289.5,598.9 291.5,596.2 293.5,593.7 295.5,591.3 297.5,589.1 299.5,586.9 301.5,584.9 303.5,583.0 305.5,581.3 307.5,579.7 309.5,578.3 311.5,577.1 313.5,576.0 315.5,575.1 317.5,574.4 319.5,574.0 321.5,573.7 323.5,573.6 325.5,573.6 327.5,573.9 329.5,574.3 331.5,574.9 333.5,575.7 335.5,576.6 337.5,577.7 339.5,579.0 341.5,580.4 343.5,582.0 345.5,583.7 347.5,585.5 349.5,587.5 351.5,589.6 353.5,591.9 355.5,594.2 357.5,596.7 359.5,599.3 361.5,602.0 363.5,604.7 365.5,607.6 367.5,610.5 369.5,613.5 371.5,616.6 373.5,619.7 375.5,622.9 377.5,626.1 379.5,629.3 381.5,632.6 383.5,635.9 385.5,639.3 387.5,642.6 389.5,646.0 391.5,649.3 393.5,652.6 395.5,655.9 397.5,659.2 399.5,662.4 401.5,665.6 403.5,668.7 405.5,671.7 407.5,674.7 409.5,677.5 411.5,680.3 413.5,682.9 415.5,685.3 417.5,687.7 419.5,689.9 421.5,691.9 423.5,693.8 425.5,695.4 427.5,697.0 429.5,698.3 431.5,699.5 433.5,700.5 435.5,701.4 437.5,702.0 439.5,702.5 441.5,702.8 443.5,703.0 445.5,703.0 447.5,702.8 449.5,702.4 451.5,701.8 453.5,701.1 455.5,700.2 457.5,699.1 459.5,697.8 461.5,696.4 463.5,694.8 465.5,693.0 467.5,691.1 469.5,689.1 471.5,686.9 473.5,684.7 475.5,682.3 477.5,679.8 479.5,677.2 481.5,674.5 483.5,671.8 485.5,669.0 487.5,666.1 489.5,663.3 491.5,660.3 493.5,657.4 495.5,654.4 497.5,651.4 499.5,648.4 501.5,645.4 503.5,642.5 505.5,639.5 507.5,636.6 509.5,633.7 511.5,630.9 513.5,628.1 515.5,625.4 517.5,622.7 519.5,620.1 521.5,617.6 523.5,615.2 525.5,612.9 527.5,610.7 529.5,608.6 531.5,606.6 533.5,604.7 535.5,603.0 537.5,601.4 539.5,599.9 541.5,598.6 543.5,597.4 545.5,596.3 547.5,595.3 549.5,594.5 551.5,593.7 553.5,593.1 555.5,592.7 557.5,592.3 559.5,592.0 561.5,591.9 563.5,591.9 565.5,592.0 567.5,592.2 569.5,592.5 571.5,592.9 573.5,593.4 575.5,594.0 577.5,594.7 579.5,595.4 581.5,596.3 583.5,597.3 585.5,598.3 587.5,599.5 589.5,600.7 591.5,601.9 593.5,603.3 595.5,604.7 597.5,606.2 599.5,607.7 601.5,609.3 603.5,611.0 605.5,612.7 607.5,614.5 609.5,616.3 611.5,618.2 613.5,620.0 615.5,622.0 617.5,623.9 619.5,625.9 621.5,627.9 623.5,629.9 625.5,631.9 627.5,634.0 629.5,636.0 631.5,638.0 633.5,640.1 635.5,642.1 637.5,644.1 639.5,646.1 641.5,648.1 643.5,650.0 645.5,652.0 647.5,653.9 649.5,655.7 651.5,657.5 653.5,659.3 655.5,661.0 657.5,662.7 659.5,664.3 661.5,665.9 663.5,667.4 665.5,668.8 667.5,670.2 669.5,671.4 671.5,672.7 673.5,673.8 675.5,674.9 677.5,675.9 679.5,676.9 681.5,677.8 683.5,678.6 685.5,679.3 687.5,680.0 689.5,680.6 691.5,681.2 693.5,681.7 695.5,682.1 697.5,682.4 699.5,682.7 701.5,682.9 703.5,683.0 705.5,683.1 707.5,683.1 709.5,683.0 711.5,682.9 713.5,682.7 715.5,682.4 717.5,682.0 719.5,681.6 721.5,681.1 723.5,680.5 725.5,679.9 727.5,679.2 729.5,678.4 731.5,677.6 733.5,676.7 735.5,675.7 737.5,674.6 739.5,673.4 741.5,672.2 743.5,670.9 745.5,669.4 747.5,668.0 749.5,666.4 751.5,664.7 753.5,663.0 755.5,661.1 757.5,659.2 759.5,657.1 761.5,655.0 763.5,652.9 765.5,650.6 767.5,648.4 769.5,646.1 771.5,643.7 773.5,641.4 775.5,639.1 777.5,636.7 779.5,634.4 781.5,632.2 783.5,629.9 785.5,627.7 787.5,625.5 789.5,623.3 791.5,621.2 793.5,619.1 795.5,617.0 797.5,615.0 799.5,613.0 801.5,611.0 803.5,609.1 805.5,607.2 807.5,605.3 809.5,603.5 811.5,601.7 813.5,600.0 815.5,598.3 817.5,596.6 819.5,595.0 821.5,593.5 823.5,591.9 825.5,590.5 827.5,589.1 829.5,587.8 831.5,586.7 833.5,585.6 835.5,584.6 837.5,583.8 839.5,583.1 841.5,582.5 843.5,582.0 845.5,581.7 847.5,581.5 849.5,581.4 851.5,581.5 853.5,581.7 855.5,582.0 857.5,582.4 859.5,583.0 861.5,583.7 863.5,584.5 865.5,585.5 867.5,586.6 869.5,587.9 871.5,589.2 873.5,590.8 875.5,592.4 877.5,594.2 879.5,596.1 881.5,598.2 883.5,600.4 885.5,602.7 887.5,605.1 889.5,607.7 891.5,610.3 893.5,613.0 895.5,615.8 897.5,618.6 899.5,621.6 901.5,624.6 903.5,627.6 905.5,630.7 907.5,633.8 909.5,637.0 911.5,640.2 913.5,643.4 915.5,646.6 917.5,649.9 919.5,653.1 921.5,656.4 923.5,659.6 925.5,662.9 927.5,666.1 929.5,669.4 931.5,672.6 933.5,675.8 935.5,679.0 937.5,682.1 939.5,685.2 941.5,688.3 943.5,691.3 945.5,694.3 947.5,697.2 949.5,700.0 951.5,702.8 953.5,705.4 955.5,708.0 957.5,710.4 959.5,712.7 961.5,714.8 963.5,716.7 965.5,718.5 967.5,720.1 969.5,721.5 971.5,722.6 973.5,723.5 975.5,724.2 977.5,724.6 979.5,724.7 981.5,724.5 983.5,724.1 985.5,723.4 987.5,722.4 989.5,721.2 991.5,719.7 993.5,718.0 995.5,716.1 997.5,713.9 999.5,711.4 1001.5,708.8 1003.5,705.9 1005.5,702.8 1007.5,699.5 1009.5,696.0 1011.5,692.3 1013.5,688.4 1015.5,684.4 1017.5,680.2 1019.5,675.8 1021.5,671.4 1023.5,666.8 1025.5,662.2 1027.5,657.4 1029.5,652.6 1031.5,647.8 1033.5,642.9 1035.5,638.0 1037.5,633.1 1039.5,628.2 1041.5,623.4 1043.5,618.6 1045.5,613.8 1047.5,609.1 1049.5,604.5 1051.5,600.0 1053.5,595.6 1055.5,591.4 1057.5,587.2 1059.5,583.2 1061.5,579.3 1063.5,575.6 1065.5,572.1 1067.5,568.7 1069.5,565.5 1071.5,562.6 1073.5,559.8 1075.5,557.2 1077.5,554.9 1079.5,552.7 1081.5,550.8 1083.5,549.1 1085.5,547.6 1087.5,546.3 1089.5,545.3 1091.5,544.4 1093.5,543.8 1095.5,543.5 1097.5,543.4 1099.5,543.5 1101.5,543.9 1103.5,544.4 1105.5,545.2 1107.5,546.3 1109.5,547.5 1111.5,549.0 1113.5,550.6 1115.5,552.5 1117.5,554.5 1119.5,556.8 1121.5,559.2 1123.5,561.9 1125.5,564.7 1127.5,567.7 1129.5,570.9 1131.5,574.2 1133.5,577.7 1135.5,581.4 1137.5,585.2 1139.5,589.2 1141.5,593.3 1143.5,597.5 1145.5,601.9 1147.5,606.5 1149.5,611.1 1151.5,615.9 1153.5,620.7 1155.5,625.7 1157.5,630.8 1159.5,635.9 1161.5,641.1 1163.5,646.4 1165.5,651.8 1167.5,657.2 1169.5,662.6 1171.5,668.1 1173.5,673.7 1175.5,679.2 1177.5,684.8 1179.5,690.4 1181.5,695.9 1183.5,701.4 1185.5,706.8 1187.5,712.0 1189.5,717.1 1191.5,722.0 1193.5,726.8 1195.5,731.2 1197.5,735.4 1199.5,739.4 1201.5,743.1 1203.5,746.5 1205.5,749.7 1207.5,752.7 1209.5,755.3 1211.5,757.7 1213.5,759.9 1215.5,761.7 1217.5,763.3 1219.5,764.6 1221.5,765.5 1223.5,766.1 1225.5,766.4 1227.5,766.3 1229.5,765.8 1231.5,764.9 1233.5,763.6 1235.5,761.9 1237.5,759.7 1239.5,757.2 1241.5,754.3 1243.5,751.0 1245.5,747.3 1247.5,743.3 1249.5,738.9 1251.5,734.2 1253.5,729.2 1255.5,723.9 1257.5,718.4 1259.5,712.5 1261.5,706.5 1263.5,700.1 1265.5,693.6 1267.5,686.8 1269.5,679.9 1271.5,672.7 1273.5,665.5 1275.5,658.0 1277.5,650.5 1279.5,643.0 1281.5,635.4 1283.5,627.8 1285.5,620.2 1287.5,612.7 1289.5,605.3 1291.5,598.1 1293.5,590.9 1295.5,584.0 1297.5,577.3 1299.5,570.8 1301.5,564.6 1303.5,558.8 1305.5,553.2 1307.5,548.0 1309.5,543.1 1311.5,538.6 1313.5,534.3 1315.5,530.5 1317.5,526.9 1319.5,523.6 1321.5,520.7 1323.5,518.2 1325.5,515.9 1327.5,513.9 1329.5,512.3 1331.5,511.0 1333.5,510.1 1335.5,509.4 1337.5,509.1 1339.5,509.0 1341.5,509.3 1343.5,509.9 1345.5,510.8 1347.5,512.1 1349.5,513.6 1351.5,515.4 1353.5,517.5 1355.5,519.9 1357.5,522.6 1359.5,525.6 1361.5,528.9 1363.5,532.5 1365.5,536.3 1367.5,540.4 1369.5,544.8 1371.5,549.5 1373.5,554.4 1375.5,559.5 1377.5,565.0 1379.5,570.7 1381.5,576.6 1383.5,582.7 1385.5,589.0 1387.5,595.5 1389.5,602.2 1391.5,609.0 1393.5,616.0 1395.5,623.0 1397.5,630.2 1399.5,637.4 1401.5,644.7 1403.5,652.0 1405.5,659.4 1407.5,666.7 1409.5,674.1 1411.5,681.4 1413.5,688.7 1415.5,696.0 1417.5,703.1 1419.5,710.2 1420.6,714.1" fill="none" stroke="#e60000" stroke-width="2.35" stroke-linejoin="round" stroke-linecap="round"/>
<g fill="#000">
<circle cx="1682.4" cy="90.4" r="3.6"/>
<circle cx="1652.3" cy="81.5" r="3.6"/>
<circle cx="1651.8" cy="103.0" r="3.6"/>
<circle cx="1661.4" cy="88.8" r="3.6"/>
<circle cx="1667.8" cy="102.8" r="3.6"/>
<circle cx="1674.1" cy="106.7" r="3.6"/>
<circle cx="1681.8" cy="99.8" r="3.6"/>
<circle cx="1685.4" cy="141.1" r="3.6"/>
<circle cx="1698.5" cy="129.1" r="3.6"/>
<circle cx="1766.5" cy="129.1" r="3.6"/>
<circle cx="1774.2" cy="170.9" r="3.6"/>
<circle cx="1831.6" cy="176.5" r="3.6"/>
<circle cx="1860.7" cy="230.0" r="3.6"/>
<circle cx="1784.2" cy="229.3" r="3.6"/>
<circle cx="1771.1" cy="235.2" r="3.6"/>
<circle cx="1906.1" cy="241.1" r="3.6"/>
<circle cx="1910.5" cy="247.1" r="3.6"/>
<circle cx="1890.0" cy="253.1" r="3.6"/>
<circle cx="1873.4" cy="261.9" r="3.6"/>
<circle cx="1776.1" cy="270.8" r="3.6"/>
<circle cx="1779.2" cy="279.7" r="3.6"/>
<circle cx="1779.2" cy="288.6" r="3.6"/>
<circle cx="1788.2" cy="297.8" r="3.6"/>
<circle cx="1783.6" cy="304.0" r="3.6"/>
<circle cx="1829.5" cy="293.8" r="3.6"/>
<circle cx="1885.9" cy="283.3" r="3.6"/>
<circle cx="1843.6" cy="278.1" r="3.6"/>
<circle cx="1787.3" cy="273.9" r="3.6"/>
<circle cx="1807.4" cy="285.5" r="3.6"/>
<circle cx="1862.7" cy="290.9" r="3.6"/>
<circle cx="1826.6" cy="282.9" r="3.6"/>
<circle cx="1826.9" cy="252.6" r="3.6"/>
<circle cx="1828.6" cy="246.7" r="3.6"/>
<circle cx="1798.4" cy="236.4" r="3.6"/>
<circle cx="1798.7" cy="257.7" r="3.6"/>
<circle cx="1830.5" cy="245.0" r="3.6"/>
<circle cx="1801.3" cy="224.9" r="3.6"/>
<circle cx="1807.4" cy="226.4" r="3.6"/>
<circle cx="1839.4" cy="265.1" r="3.6"/>
<circle cx="1838.1" cy="244.2" r="3.6"/>
<circle cx="1810.9" cy="243.8" r="3.6"/>
<circle cx="1804.9" cy="231.8" r="3.6"/>
<circle cx="1816.9" cy="250.7" r="3.6"/>
<circle cx="1811.5" cy="237.7" r="3.6"/>
<circle cx="1808.5" cy="237.7" r="3.6"/>
<circle cx="1824.6" cy="238.2" r="3.6"/>
<circle cx="1822.2" cy="224.9" r="3.6"/>
<circle cx="1833.3" cy="257.0" r="3.6"/>
<circle cx="1839.7" cy="277.1" r="3.6"/>
<circle cx="1836.7" cy="237.9" r="3.6"/>
<circle cx="1823.2" cy="234.9" r="3.6"/>
<circle cx="1813.9" cy="231.5" r="3.6"/>
<circle cx="1810.9" cy="205.9" r="3.6"/>
<circle cx="1813.9" cy="227.1" r="3.6"/>
<circle cx="1819.1" cy="237.1" r="3.6"/>
<circle cx="1821.5" cy="202.2" r="3.6"/>
<circle cx="1822.6" cy="239.9" r="3.6"/>
<circle cx="1822.2" cy="197.4" r="3.6"/>
<circle cx="1822.6" cy="199.4" r="3.6"/>
<circle cx="1825.6" cy="216.5" r="3.6"/>
<circle cx="1831.1" cy="216.6" r="3.6"/>
<circle cx="1837.1" cy="236.5" r="3.6"/>
<circle cx="1843.1" cy="264.6" r="3.6"/>
<circle cx="1848.2" cy="276.0" r="3.6"/>
<circle cx="1852.8" cy="277.1" r="3.6"/>
<circle cx="1856.9" cy="280.3" r="3.6"/>
<circle cx="1860.2" cy="255.6" r="3.6"/>
<circle cx="1862.3" cy="276.0" r="3.6"/>
<circle cx="1860.8" cy="268.1" r="3.6"/>
<circle cx="1857.4" cy="242.5" r="3.6"/>
<circle cx="1853.8" cy="241.1" r="3.6"/>
<circle cx="1850.8" cy="217.0" r="3.6"/>
<circle cx="1849.4" cy="221.7" r="3.6"/>
<circle cx="1845.8" cy="224.9" r="3.6"/>
<circle cx="1840.7" cy="211.0" r="3.6"/>
<circle cx="1835.7" cy="228.4" r="3.6"/>
<circle cx="1833.2" cy="173.7" r="3.6"/>
<circle cx="1830.6" cy="198.7" r="3.6"/>
<circle cx="1822.1" cy="206.4" r="3.6"/>
<circle cx="1808.1" cy="179.1" r="3.6"/>
<circle cx="1789.9" cy="192.7" r="3.6"/>
<circle cx="1770.8" cy="160.9" r="3.6"/>
<circle cx="1762.2" cy="173.5" r="3.6"/>
<circle cx="1767.7" cy="171.5" r="3.6"/>
<circle cx="1785.8" cy="156.1" r="3.6"/>
<circle cx="1802.0" cy="151.4" r="3.6"/>
<circle cx="1811.4" cy="196.4" r="3.6"/>
<circle cx="1809.0" cy="240.1" r="3.6"/>
<circle cx="1795.0" cy="238.2" r="3.6"/>
<circle cx="1780.8" cy="211.6" r="3.6"/>
<circle cx="1771.8" cy="187.6" r="3.6"/>
<circle cx="1765.7" cy="194.9" r="3.6"/>
<circle cx="1763.1" cy="194.4" r="3.6"/>
<circle cx="1760.7" cy="195.7" r="3.6"/>
<circle cx="1758.1" cy="185.9" r="3.6"/>
<circle cx="1755.2" cy="189.3" r="3.6"/>
<circle cx="1751.0" cy="166.4" r="3.6"/>
<circle cx="1746.6" cy="183.7" r="3.6"/>
<circle cx="1742.0" cy="152.7" r="3.6"/>
<circle cx="1737.9" cy="174.5" r="3.6"/>
<circle cx="1734.2" cy="156.0" r="3.6"/>
<circle cx="1734.0" cy="139.4" r="3.6"/>
<circle cx="1736.6" cy="153.3" r="3.6"/>
<circle cx="1742.0" cy="139.9" r="3.6"/>
<circle cx="1746.6" cy="140.8" r="3.6"/>
<circle cx="1750.0" cy="180.8" r="3.6"/>
<circle cx="1757.7" cy="168.4" r="3.6"/>
<circle cx="1768.8" cy="135.7" r="3.6"/>
<circle cx="1779.9" cy="161.0" r="3.6"/>
<circle cx="1787.3" cy="185.1" r="3.6"/>
<circle cx="1787.9" cy="201.3" r="3.6"/>
<circle cx="1785.5" cy="174.5" r="3.6"/>
<circle cx="1782.3" cy="176.9" r="3.6"/>
<circle cx="1694.8" cy="594.7" r="3.6"/>
<circle cx="1690.8" cy="593.5" r="3.6"/>
<circle cx="1684.2" cy="593.6" r="3.6"/>
<circle cx="1680.4" cy="595.1" r="3.6"/>
<circle cx="1693.9" cy="597.8" r="3.6"/>
<circle cx="1667.8" cy="601.9" r="3.6"/>
<circle cx="1673.7" cy="606.7" r="3.6"/>
<circle cx="1693.8" cy="612.3" r="3.6"/>
<circle cx="1683.5" cy="618.3" r="3.6"/>
<circle cx="1693.4" cy="625.3" r="3.6"/>
<circle cx="1660.0" cy="632.1" r="3.6"/>
<circle cx="1721.3" cy="638.8" r="3.6"/>
<circle cx="1695.2" cy="646.1" r="3.6"/>
<circle cx="1711.1" cy="653.2" r="3.6"/>
<circle cx="1697.2" cy="659.7" r="3.6"/>
<circle cx="1707.0" cy="666.5" r="3.6"/>
<circle cx="1707.0" cy="672.7" r="3.6"/>
<circle cx="1756.0" cy="677.6" r="3.6"/>
<circle cx="1738.6" cy="682.6" r="3.6"/>
<circle cx="1744.7" cy="686.6" r="3.6"/>
<circle cx="1740.1" cy="689.8" r="3.6"/>
<circle cx="1756.0" cy="691.7" r="3.6"/>
<circle cx="1769.1" cy="692.6" r="3.6"/>
<circle cx="1807.5" cy="692.4" r="3.6"/>
<circle cx="1818.8" cy="691.2" r="3.6"/>
<circle cx="1815.3" cy="688.8" r="3.6"/>
<circle cx="1778.8" cy="686.0" r="3.6"/>
<circle cx="1745.6" cy="682.2" r="3.6"/>
<circle cx="1728.2" cy="676.8" r="3.6"/>
<circle cx="1783.9" cy="671.6" r="3.6"/>
<circle cx="1836.1" cy="665.7" r="3.6"/>
<circle cx="1827.1" cy="659.3" r="3.6"/>
<circle cx="1830.4" cy="652.3" r="3.6"/>
<circle cx="1823.1" cy="644.8" r="3.6"/>
<circle cx="1790.9" cy="638.4" r="3.6"/>
<circle cx="1770.0" cy="630.8" r="3.6"/>
<circle cx="1772.1" cy="623.6" r="3.6"/>
<circle cx="1733.4" cy="616.4" r="3.6"/>
<circle cx="1697.7" cy="610.3" r="3.6"/>
<circle cx="1674.3" cy="604.7" r="3.6"/>
<circle cx="1671.8" cy="599.4" r="3.6"/>
<circle cx="1669.6" cy="595.5" r="3.6"/>
<circle cx="1676.6" cy="592.3" r="3.6"/>
<circle cx="1683.5" cy="590.2" r="3.6"/>
<circle cx="1688.5" cy="589.1" r="3.6"/>
<circle cx="1685.6" cy="589.1" r="3.6"/>
<circle cx="1682.8" cy="590.0" r="3.6"/>
<circle cx="1680.0" cy="592.0" r="3.6"/>
<circle cx="1703.0" cy="595.0" r="3.6"/>
<circle cx="1763.5" cy="599.1" r="3.6"/>
<circle cx="1729.1" cy="603.7" r="3.6"/>
<circle cx="1692.5" cy="609.3" r="3.6"/>
<circle cx="1682.1" cy="615.2" r="3.6"/>
<circle cx="1677.2" cy="621.3" r="3.6"/>
<circle cx="1704.7" cy="627.4" r="3.6"/>
<circle cx="1739.0" cy="634.2" r="3.6"/>
<circle cx="1707.3" cy="640.4" r="3.6"/>
<circle cx="1740.4" cy="646.8" r="3.6"/>
<circle cx="1756.0" cy="652.6" r="3.6"/>
<circle cx="1797.9" cy="658.1" r="3.6"/>
<circle cx="1718.1" cy="662.9" r="3.6"/>
<circle cx="1732.0" cy="667.5" r="3.6"/>
<circle cx="1732.0" cy="670.9" r="3.6"/>
<circle cx="1676.6" cy="673.9" r="3.6"/>
<circle cx="1711.7" cy="675.9" r="3.6"/>
<circle cx="1724.2" cy="677.2" r="3.6"/>
<circle cx="1713.5" cy="677.9" r="3.6"/>
<circle cx="1698.0" cy="677.9" r="3.6"/>
<circle cx="1682.1" cy="677.2" r="3.6"/>
<circle cx="1707.5" cy="676.0" r="3.6"/>
<circle cx="1733.4" cy="674.2" r="3.6"/>
<circle cx="1690.3" cy="672.1" r="3.6"/>
<circle cx="1697.7" cy="669.2" r="3.6"/>
<circle cx="1659.5" cy="666.1" r="3.6"/>
<circle cx="1687.6" cy="662.7" r="3.6"/>
<circle cx="1744.4" cy="658.8" r="3.6"/>
<circle cx="1746.6" cy="654.9" r="3.6"/>
<circle cx="1754.8" cy="650.4" r="3.6"/>
<circle cx="1724.3" cy="646.2" r="3.6"/>
<circle cx="1713.0" cy="641.6" r="3.6"/>
<circle cx="1693.9" cy="637.3" r="3.6"/>
<circle cx="1704.9" cy="633.0" r="3.6"/>
<circle cx="1701.4" cy="628.9" r="3.6"/>
<circle cx="1662.6" cy="625.1" r="3.6"/>
<circle cx="1682.7" cy="621.0" r="3.6"/>
<circle cx="1699.7" cy="617.9" r="3.6"/>
<circle cx="1691.3" cy="614.8" r="3.6"/>
<circle cx="1671.8" cy="612.2" r="3.6"/>
<circle cx="1690.4" cy="610.0" r="3.6"/>
<circle cx="1776.5" cy="608.1" r="3.6"/>
<circle cx="1673.6" cy="606.7" r="3.6"/>
<circle cx="1667.5" cy="605.7" r="3.6"/>
<circle cx="1663.8" cy="605.1" r="3.6"/>
<circle cx="1698.2" cy="604.9" r="3.6"/>
<circle cx="1732.3" cy="605.1" r="3.6"/>
<circle cx="1765.2" cy="605.7" r="3.6"/>
<circle cx="1776.5" cy="606.8" r="3.6"/>
<circle cx="1744.5" cy="608.2" r="3.6"/>
<circle cx="1713.0" cy="610.0" r="3.6"/>
<circle cx="1703.0" cy="612.3" r="3.6"/>
<circle cx="1738.2" cy="615.2" r="3.6"/>
<circle cx="1729.6" cy="618.4" r="3.6"/>
<circle cx="1711.3" cy="622.4" r="3.6"/>
<circle cx="1679.6" cy="626.5" r="3.6"/>
<circle cx="1706.1" cy="631.3" r="3.6"/>
<circle cx="1751.9" cy="636.5" r="3.6"/>
<circle cx="1727.8" cy="641.4" r="3.6"/>
<circle cx="1754.4" cy="646.5" r="3.6"/>
<circle cx="1780.0" cy="651.2" r="3.6"/>
<circle cx="1780.0" cy="655.3" r="3.6"/>
<circle cx="1753.6" cy="660.4" r="3.6"/>
<circle cx="1730.1" cy="664.6" r="3.6"/>
<circle cx="1759.1" cy="668.5" r="3.6"/>
<circle cx="1707.5" cy="672.4" r="3.6"/>
<circle cx="1701.4" cy="675.8" r="3.6"/>
<circle cx="1725.1" cy="679.2" r="3.6"/>
<circle cx="1747.0" cy="681.8" r="3.6"/>
<circle cx="1760.0" cy="684.1" r="3.6"/>
<circle cx="1788.3" cy="685.5" r="3.6"/>
<circle cx="1826.6" cy="686.3" r="3.6"/>
<circle cx="1842.8" cy="686.2" r="3.6"/>
<circle cx="1868.7" cy="685.4" r="3.6"/>
<circle cx="1892.7" cy="683.9" r="3.6"/>
<circle cx="1856.0" cy="681.5" r="3.6"/>
<circle cx="1823.1" cy="678.5" r="3.6"/>
<circle cx="1814.9" cy="674.3" r="3.6"/>
<circle cx="1809.2" cy="669.8" r="3.6"/>
<circle cx="1805.8" cy="664.1" r="3.6"/>
<circle cx="1802.8" cy="658.6" r="3.6"/>
<circle cx="1802.8" cy="652.0" r="3.6"/>
<circle cx="1804.0" cy="645.5" r="3.6"/>
<circle cx="1810.0" cy="638.9" r="3.6"/>
<circle cx="1817.9" cy="631.5" r="3.6"/>
<circle cx="1807.5" cy="624.5" r="3.6"/>
<circle cx="1783.1" cy="617.7" r="3.6"/>
<circle cx="1774.0" cy="610.9" r="3.6"/>
<circle cx="1785.2" cy="603.8" r="3.6"/>
<circle cx="1790.4" cy="596.9" r="3.6"/>
<circle cx="1779.4" cy="590.6" r="3.6"/>
<circle cx="1769.2" cy="585.2" r="3.6"/>
<circle cx="1788.9" cy="579.9" r="3.6"/>
<circle cx="1806.6" cy="576.1" r="3.6"/>
<circle cx="1817.9" cy="573.3" r="3.6"/>
<circle cx="1823.7" cy="571.7" r="3.6"/>
<circle cx="1791.8" cy="571.9" r="3.6"/>
<circle cx="1741.7" cy="573.6" r="3.6"/>
<circle cx="1726.6" cy="576.6" r="3.6"/>
<circle cx="1717.7" cy="581.3" r="3.6"/>
<circle cx="1748.7" cy="587.1" r="3.6"/>
<circle cx="1726.9" cy="594.5" r="3.6"/>
<circle cx="1737.4" cy="602.7" r="3.6"/>
<circle cx="1791.5" cy="611.6" r="3.6"/>
<circle cx="1799.9" cy="621.3" r="3.6"/>
<circle cx="1825.1" cy="632.0" r="3.6"/>
<circle cx="1813.3" cy="642.4" r="3.6"/>
<circle cx="1802.5" cy="653.3" r="3.6"/>
<circle cx="1781.1" cy="663.6" r="3.6"/>
<circle cx="1770.3" cy="673.9" r="3.6"/>
<circle cx="1773.2" cy="682.7" r="3.6"/>
<circle cx="1782.4" cy="691.4" r="3.6"/>
<circle cx="1781.6" cy="698.7" r="3.6"/>
<circle cx="1802.0" cy="704.7" r="3.6"/>
<circle cx="1805.5" cy="709.5" r="3.6"/>
<circle cx="1776.7" cy="713.4" r="3.6"/>
<circle cx="1843.7" cy="715.7" r="3.6"/>
<circle cx="1872.0" cy="716.8" r="3.6"/>
<circle cx="1853.3" cy="716.5" r="3.6"/>
<circle cx="1781.9" cy="714.9" r="3.6"/>
<circle cx="1754.4" cy="712.1" r="3.6"/>
<circle cx="1758.1" cy="707.6" r="3.6"/>
<circle cx="1786.8" cy="702.5" r="3.6"/>
<circle cx="1748.5" cy="695.8" r="3.6"/>
<circle cx="1729.1" cy="688.5" r="3.6"/>
<circle cx="1731.6" cy="679.8" r="3.6"/>
<circle cx="1734.0" cy="670.8" r="3.6"/>
<circle cx="1751.3" cy="660.9" r="3.6"/>
<circle cx="1749.6" cy="650.1" r="3.6"/>
<circle cx="1735.1" cy="638.8" r="3.6"/>
<circle cx="1720.4" cy="627.0" r="3.6"/>
<circle cx="1699.5" cy="615.3" r="3.6"/>
<circle cx="1673.4" cy="603.7" r="3.6"/>
<circle cx="1649.0" cy="592.2" r="3.6"/>
<circle cx="1639.5" cy="580.9" r="3.6"/>
<circle cx="1640.0" cy="569.3" r="3.6"/>
<circle cx="1640.4" cy="560.9" r="3.6"/>
<circle cx="1644.7" cy="553.2" r="3.6"/>
<circle cx="1653.7" cy="546.4" r="3.6"/>
<circle cx="1661.3" cy="542.2" r="3.6"/>
<circle cx="1670.8" cy="539.3" r="3.6"/>
<circle cx="1684.1" cy="538.2" r="3.6"/>
<circle cx="1695.2" cy="539.3" r="3.6"/>
<circle cx="1699.8" cy="542.7" r="3.6"/>
<circle cx="1692.5" cy="549.3" r="3.6"/>
<circle cx="1686.4" cy="556.7" r="3.6"/>
<circle cx="1683.4" cy="566.3" r="3.6"/>
<circle cx="1689.9" cy="579.7" r="3.6"/>
<circle cx="1695.6" cy="593.2" r="3.6"/>
<circle cx="1701.2" cy="607.5" r="3.6"/>
<circle cx="1710.6" cy="623.7" r="3.6"/>
<circle cx="1719.6" cy="640.0" r="3.6"/>
<circle cx="1728.2" cy="655.6" r="3.6"/>
<circle cx="1729.9" cy="672.5" r="3.6"/>
<circle cx="1731.5" cy="687.6" r="3.6"/>
<circle cx="1733.1" cy="700.8" r="3.6"/>
<circle cx="1740.0" cy="713.3" r="3.6"/>
<circle cx="1746.5" cy="722.9" r="3.6"/>
<circle cx="1754.2" cy="730.7" r="3.6"/>
<circle cx="1779.6" cy="737.3" r="3.6"/>
<circle cx="1803.3" cy="741.5" r="3.6"/>
<circle cx="1826.0" cy="743.8" r="3.6"/>
<circle cx="1798.4" cy="744.3" r="3.6"/>
<circle cx="1772.0" cy="742.9" r="3.6"/>
<circle cx="1749.4" cy="740.3" r="3.6"/>
<circle cx="1736.4" cy="734.8" r="3.6"/>
<circle cx="1725.0" cy="728.1" r="3.6"/>
<circle cx="1714.3" cy="720.4" r="3.6"/>
<circle cx="1707.0" cy="709.9" r="3.6"/>
<circle cx="1700.4" cy="699.1" r="3.6"/>
<circle cx="1699.8" cy="686.8" r="3.6"/>
<circle cx="1703.8" cy="671.6" r="3.6"/>
<circle cx="1707.4" cy="656.7" r="3.6"/>
<circle cx="1710.8" cy="642.4" r="3.6"/>
<circle cx="1717.8" cy="626.9" r="3.6"/>
<circle cx="1739.5" cy="611.5" r="3.6"/>
<circle cx="1764.5" cy="593.6" r="3.6"/>
<circle cx="1786.3" cy="580.1" r="3.6"/>
</g>
</svg>
</body></html>
